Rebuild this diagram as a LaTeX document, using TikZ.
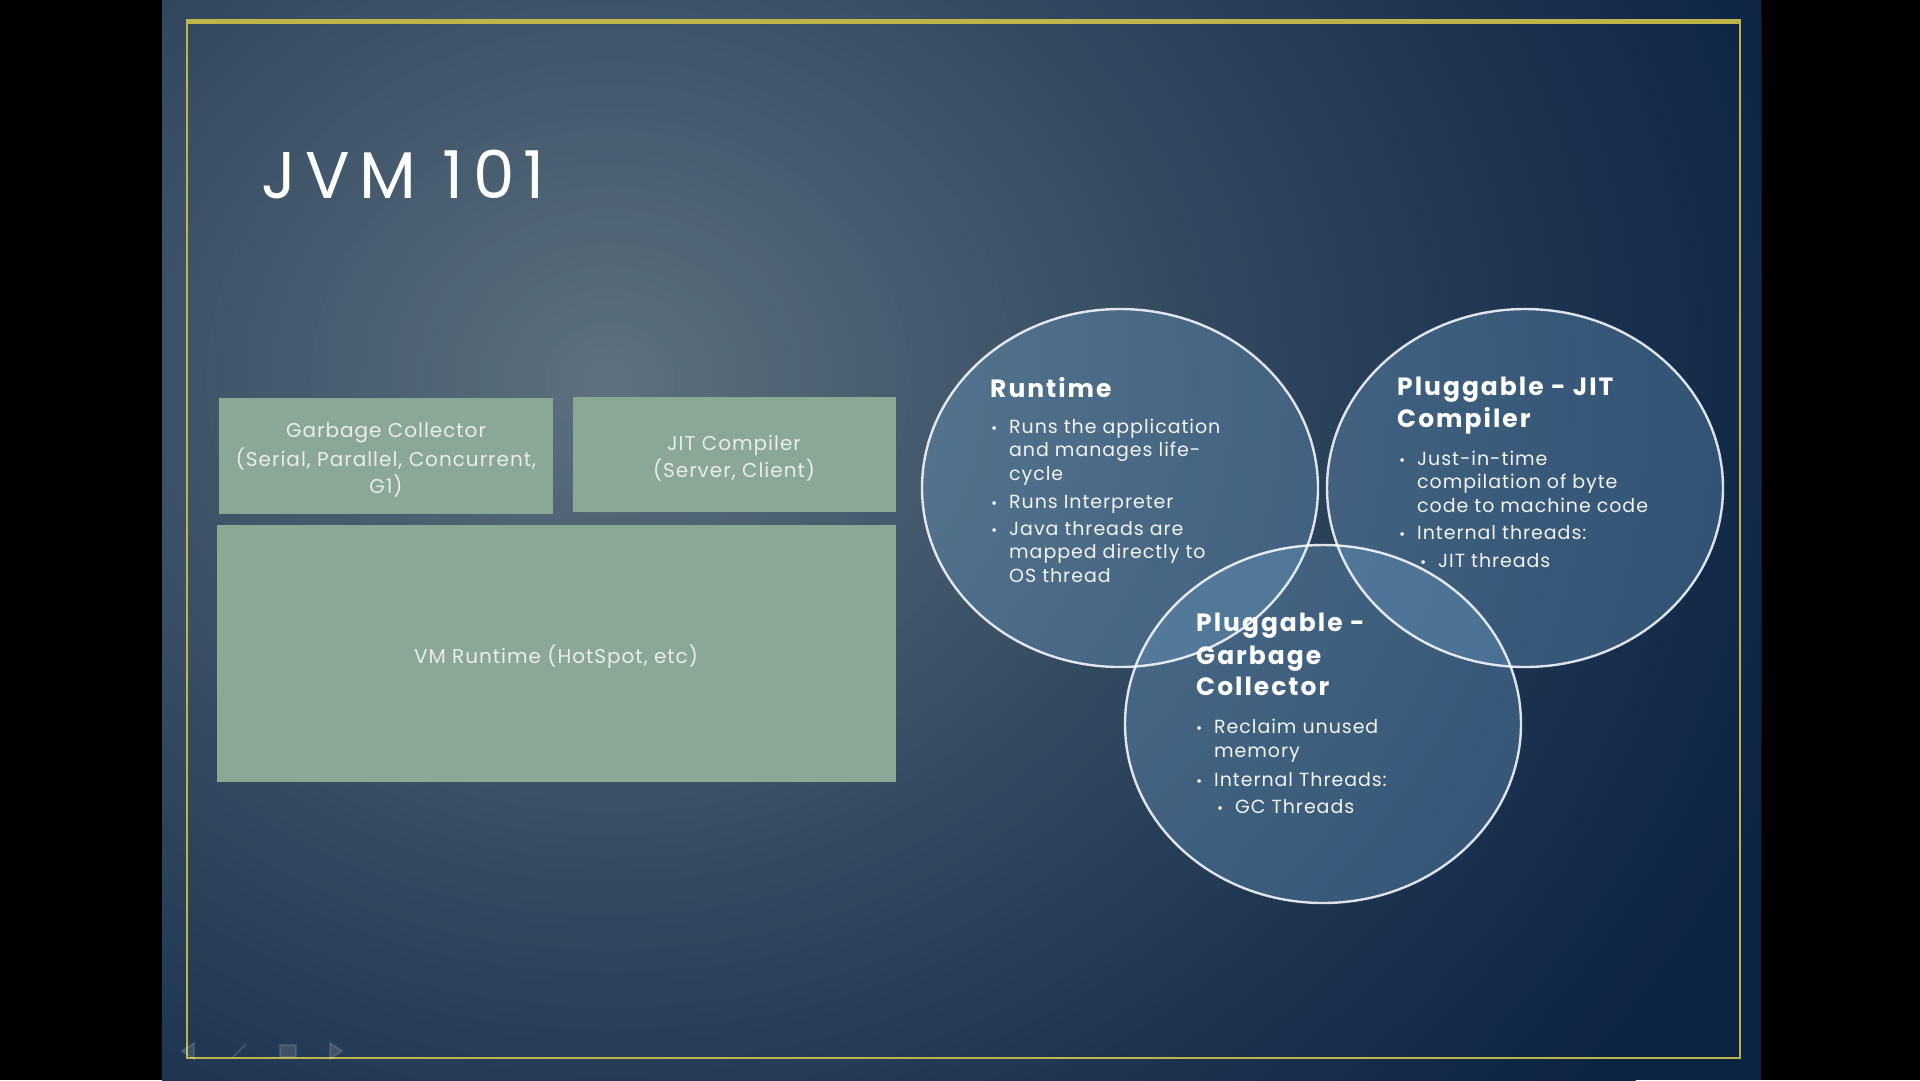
\documentclass[tikz,border=0pt]{standalone}
\usepackage{fontspec}
\setmainfont{Poppins}
\definecolor{bgdark}{HTML}{0C2444}
\definecolor{bglight}{HTML}{5E727F}
\definecolor{frameyellow}{HTML}{BDB44A}
\definecolor{panelgreen}{HTML}{8BA897}
\definecolor{paneltext}{HTML}{E8EEE8}
\definecolor{bubblefill}{HTML}{6EA0C8}
\definecolor{bubbletext}{HTML}{F2F4F6}
\begin{document}
\begin{tikzpicture}[x=1pt,y=-1pt,
  panel/.style={fill=panelgreen, draw=none, anchor=north west, inner sep=0pt},
  paneltxt/.style={anchor=base, inner sep=0pt, text=paneltext, font=\fontsize{20}{24}\selectfont\addfontfeatures{LetterSpace=5}},
  bubble/.style={fill=bubblefill, fill opacity=0.35, draw=none},
  bubbleedge/.style={draw=white, draw opacity=0.85, line width=2.4pt},
  ctitle/.style={anchor=base west, inner sep=0pt, text=white, font=\bfseries\fontsize{25}{29}\selectfont\addfontfeatures{LetterSpace=8}},
  ctext/.style={anchor=base west, inner sep=0pt, text=bubbletext, font=\fontsize{19}{23}\selectfont\addfontfeatures{LetterSpace=5}},
  cbul/.style={anchor=base west, inner sep=0pt, text=bubbletext, font=\fontsize{15}{18}\selectfont},
  ctrl/.style={draw=white, draw opacity=0.12, fill=white, fill opacity=0.12, line width=2pt}
]
% page and side bands
\useasboundingbox (0,0) rectangle (1920,1080);
\fill[black] (0,0) rectangle (1920,1080);

% slide background: soft glow towards the upper left
\begin{scope}
  \clip (162,0) rectangle (1761,1080);
  \fill[bgdark] (162,0) rectangle (1761,1080);
  \foreach \i in {100,...,1} {
    \pgfmathtruncatemacro\p{100*(1-\i/100)^1.2}
    \fill[bglight!\p!bgdark] (610,380) ellipse ({\i*13pt} and {\i*11.4pt});
  }
\end{scope}

% frame
\draw[frameyellow, line width=2.5pt] (187,21) rectangle (1740,1058);
\draw[frameyellow, line width=5pt] (186,21) -- (1741,21);

% title
\node[anchor=base west, inner sep=0pt, text=white, font=\fontsize{66}{70}\selectfont\addfontfeatures{LetterSpace=14}] (title) at (261,198) {JVM 101};

% layered blocks
\node[panel, minimum width=334pt, minimum height=116pt] (gcbox) at (219,398) {};
\node[panel, minimum width=323pt, minimum height=115pt] (jitbox) at (573,397) {};
\node[panel, minimum width=679pt, minimum height=257pt] (vmbox) at (217,525) {};

\node[paneltxt] (gc1) at (386,437) {Garbage Collector};
\node[paneltxt] (gc2) at (386,466) {(Serial, Parallel, Concurrent,};
\node[paneltxt] (gc3) at (386,493) {G1)};
\node[paneltxt] (jit1) at (734,450) {JIT Compiler};
\node[paneltxt] (jit2) at (734,477) {(Server, Client)};
\node[paneltxt] (vm1) at (556,663) {VM Runtime (HotSpot, etc)};

% overlapping bubbles
\fill[bubble] (1120,488) ellipse (198pt and 179pt);
\fill[bubble] (1525,488) ellipse (198pt and 179pt);
\fill[bubble] (1323,724) ellipse (198pt and 179pt);
\draw[bubbleedge] (1120,488) ellipse (198pt and 179pt);
\draw[bubbleedge] (1525,488) ellipse (198pt and 179pt);
\draw[bubbleedge] (1323,724) ellipse (198pt and 179pt);

% Runtime
\node[ctitle] (rt-t) at (990,397) {Runtime};
\node[cbul] (rt-b1) at (991,433) {•};
\node[ctext] (rt-1) at (1009,433) {Runs the application};
\node[ctext] (rt-2) at (1009,456) {and manages life-};
\node[ctext] (rt-3) at (1009,480) {cycle};
\node[cbul] (rt-b2) at (991,508) {•};
\node[ctext] (rt-4) at (1009,508) {Runs Interpreter};
\node[cbul] (rt-b3) at (991,535) {•};
\node[ctext] (rt-5) at (1009,535) {Java threads are};
\node[ctext] (rt-6) at (1009,558) {mapped directly to};
\node[ctext] (rt-7) at (1009,582) {OS thread};

% Pluggable JIT compiler
\node[ctitle] (jc-t1) at (1397,395) {Pluggable - JIT};
\node[ctitle] (jc-t2) at (1397,427) {Compiler};
\node[cbul] (jc-b1) at (1399,465) {•};
\node[ctext] (jc-1) at (1417,465) {Just-in-time};
\node[ctext] (jc-2) at (1417,488) {compilation of byte};
\node[ctext] (jc-3) at (1417,512) {code to machine code};
\node[cbul] (jc-b2) at (1399,539) {•};
\node[ctext] (jc-4) at (1417,539) {Internal threads:};
\node[cbul] (jc-b3) at (1420,567) {•};
\node[ctext] (jc-5) at (1438,567) {JIT threads};

% Pluggable garbage collector
\node[ctitle] (pg-t1) at (1196,631) {Pluggable -};
\node[ctitle] (pg-t2) at (1196,664) {Garbage};
\node[ctitle] (pg-t3) at (1196,695) {Collector};
\node[cbul] (pg-b1) at (1196,733) {•};
\node[ctext] (pg-1) at (1214,733) {Reclaim unused};
\node[ctext] (pg-2) at (1214,757) {memory};
\node[cbul] (pg-b2) at (1196,786) {•};
\node[ctext] (pg-3) at (1214,786) {Internal Threads:};
\node[cbul] (pg-b3) at (1217,813) {•};
\node[ctext] (pg-4) at (1235,813) {GC Threads};

% faint slideshow controls
\fill[ctrl] (182,1051) -- (194,1043) -- (194,1059) -- cycle;
\draw[ctrl] (232,1058) -- (246,1044);
\fill[ctrl] (280,1045) rectangle (296,1057);
\fill[ctrl] (342,1051) -- (330,1043) -- (330,1059) -- cycle;
\end{tikzpicture}
\end{document}
